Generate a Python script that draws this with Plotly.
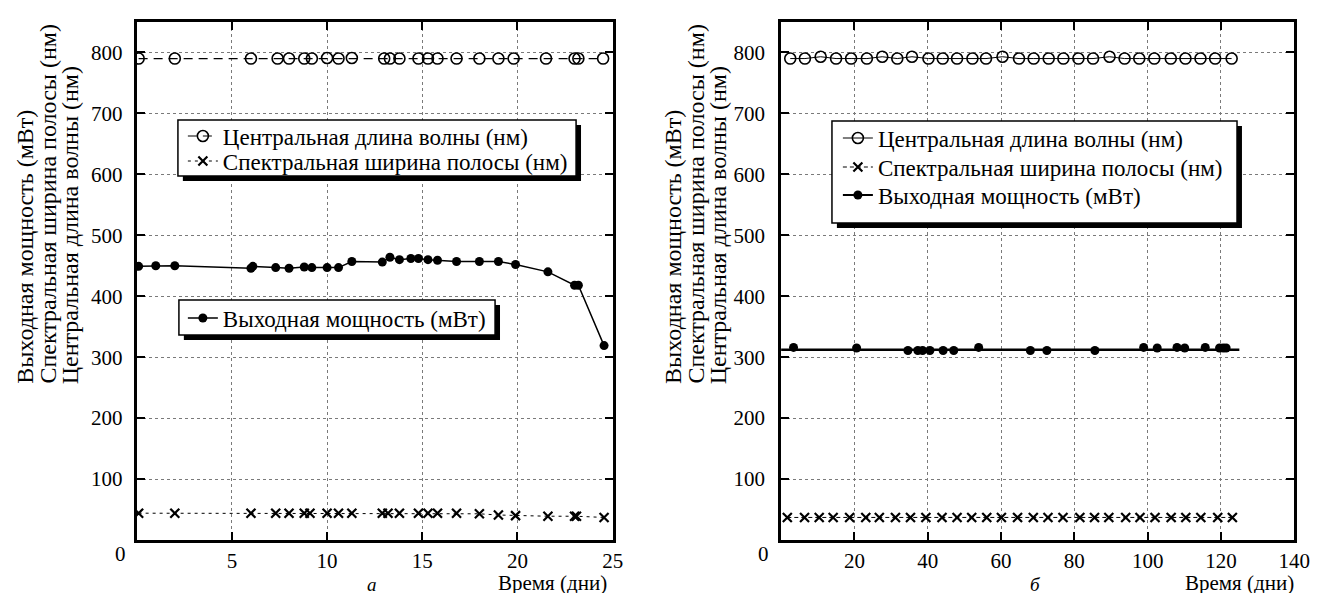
import plotly.graph_objects as go

W, H = 1329, 593

# ---------------- data: panel a ----------------
days_a_wl = [0.1, 2.0, 6.0, 7.4, 8.0, 8.8, 9.2, 10.0, 10.6, 11.3, 13.0, 13.3, 13.8,
             14.8, 15.3, 15.8, 16.8, 18.0, 19.0, 19.8, 21.5, 23.0, 23.2, 24.5]
wl_a = [790, 790, 790, 790, 790, 790, 790, 791, 790, 791, 790, 790, 790,
        790, 790, 790, 790, 790, 790, 790, 790, 790, 790, 790]

days_a_bw = [0.1, 2.0, 6.0, 7.3, 8.0, 8.8, 9.1, 10.0, 10.6, 11.3, 12.9, 13.2, 13.8,
             14.8, 15.3, 15.8, 16.8, 18.0, 19.0, 19.9, 21.6, 23.0, 23.1, 24.55]
bw_a = [44, 44, 44, 44, 44, 44, 44, 44, 44, 44, 44, 44, 44,
        44, 44, 44, 44, 43, 41, 40, 39, 39, 39, 37]

days_a_pw = [0.1, 1.0, 2.0, 6.0, 6.1, 7.3, 8.0, 8.8, 9.2, 10.0, 10.6, 11.3, 12.9, 13.3,
             13.8, 14.4, 14.8, 15.3, 15.8, 16.8, 18.0, 19.0, 19.9, 21.6, 23.0, 23.2, 24.55]
pw_a = [449, 450, 450, 446, 449, 447, 446, 448, 447, 447, 447, 457, 456, 464,
        460, 462, 462, 460, 459, 457, 457, 457, 452, 440, 418, 418, 319]

# ---------------- data: panel b ----------------
days_b_wl = [2.5, 6.5, 10.8, 15.0, 19.1, 23.4, 27.6, 31.7, 35.7, 40.2, 44.1, 48.0, 52.2, 55.9, 60.4,
             64.9, 68.9, 73.0, 77.0, 81.1, 85.1, 89.6, 93.7, 97.7, 101.8, 106.3, 110.3, 114.4, 118.4, 122.9]
wl_b = [790, 790, 793, 790, 790, 790, 793, 790, 793, 790, 790, 790, 790, 790, 793,
        790, 790, 790, 790, 790, 790, 793, 790, 790, 790, 790, 790, 790, 790, 790]

days_b_bw = [1.7, 6.4, 10.4, 14.2, 18.7, 23.1, 26.8, 31.2, 35.3, 39.5, 43.9, 48.0, 52.0, 56.1, 60.1,
             64.5, 68.8, 72.8, 76.9, 81.5, 85.5, 89.4, 94.0, 97.9, 102.0, 106.4, 110.4, 114.5, 119.1, 123.1]
bw_b = [37, 37, 37, 37, 37, 37, 37, 37, 37, 37, 37, 37, 37, 37, 37,
        37, 37, 37, 37, 37, 37, 37, 37, 37, 37, 37, 37, 37, 37, 37]

days_b_pw = [3.4, 20.6, 34.6, 37.3, 38.6, 40.6, 44.2, 47.1, 53.9, 68.0,
             72.5, 85.6, 98.9, 102.6, 108.0, 110.1, 115.7, 119.6, 120.6, 121.4]
pw_b = [316, 315, 311, 311, 311, 311, 311, 311, 316, 311,
        311, 311, 316, 315, 316, 315, 316, 315, 315, 315]
fit_days_b = [0.0, 125.0]
fit_pw_b = [312, 312]

# ---------------- labels ----------------
name_wl = "Центральная длина волны (нм)"
name_bw = "Спектральная ширина полосы (нм)"
name_pw = "Выходная мощность (мВт)"
y_title_lines = [name_pw, name_bw, name_wl]
x_title = "Время (дни)"
panel_labels = ["а", "б"]
xticks_a = [5, 10, 15, 20, 25]
xticks_b = [20, 40, 60, 80, 100, 120, 140]
yticks = [100, 200, 300, 400, 500, 600, 700, 800]

FONT = "Liberation Serif, Times New Roman, DejaVu Serif, serif"
LEG_SIZE = 23
TICK_SIZE = 21


def px(x):
    return x / W


def py(y):
    return 1 - y / H


fig = go.Figure()

open_circle = dict(symbol="circle-open", size=11, color="black", line=dict(width=1.6, color="black"))
cross = dict(symbol="x-thin", size=9, color="black", line=dict(width=2.2, color="black"))
dot = dict(symbol="circle", size=9, color="black")

# panel a
fig.add_trace(go.Scatter(x=days_a_wl, y=wl_a, mode="lines+markers", name=name_wl,
                         line=dict(color="black", width=1.2, dash="9px,6px"), marker=open_circle,
                         xaxis="x", yaxis="y", legend="legend"))
fig.add_trace(go.Scatter(x=days_a_bw, y=bw_a, mode="lines+markers", name=name_bw,
                         line=dict(color="black", width=1, dash="3px,4px"), marker=cross,
                         xaxis="x", yaxis="y", legend="legend2"))
fig.add_trace(go.Scatter(x=days_a_pw, y=pw_a, mode="lines+markers", name=name_pw,
                         line=dict(color="black", width=1.5), marker=dot,
                         xaxis="x", yaxis="y", legend="legend3"))

# panel b
fig.add_trace(go.Scatter(x=days_b_wl, y=wl_b, mode="lines+markers", name=name_wl,
                         line=dict(color="black", width=1), marker=open_circle,
                         xaxis="x2", yaxis="y2", legend="legend4"))
fig.add_trace(go.Scatter(x=days_b_bw, y=bw_b, mode="lines+markers", name=name_bw,
                         line=dict(color="black", width=1, dash="4px,3px"), marker=cross,
                         xaxis="x2", yaxis="y2", legend="legend5"))
fig.add_trace(go.Scatter(x=fit_days_b, y=fit_pw_b, mode="lines", showlegend=False,
                         line=dict(color="black", width=2.5), xaxis="x2", yaxis="y2"))
fig.add_trace(go.Scatter(x=days_b_pw, y=pw_b, mode="markers", showlegend=False,
                         marker=dot, xaxis="x2", yaxis="y2"))
fig.add_trace(go.Scatter(x=[None], y=[None], mode="lines+markers", name=name_pw,
                         line=dict(color="black", width=2), marker=dot,
                         xaxis="x2", yaxis="y2", legend="legend6"))

axis_common = dict(showline=True, linewidth=3, linecolor="black", mirror="ticks",
                   ticks="inside", ticklen=8, tickwidth=1.5, tickcolor="black",
                   showgrid=True, gridcolor="#7a7a7a", gridwidth=1, griddash="dot",
                   zeroline=False, tickfont=dict(family=FONT, size=TICK_SIZE, color="black"))

ydom = [py(532), py(14)]
fig.update_layout(
    xaxis=dict(domain=[px(130.3), px(612)], range=[0, 25], tickmode="array", tickvals=xticks_a,
               ticklabelstandoff=0, anchor="y", **axis_common),
    yaxis=dict(domain=ydom, range=[0, 850], tickmode="array", tickvals=yticks,
               ticklabelstandoff=7, anchor="x", **axis_common),
    xaxis2=dict(domain=[px(782.5), px(1302)], range=[0, 140], tickmode="array", tickvals=xticks_b,
                ticklabelstandoff=0, anchor="y2", **axis_common),
    yaxis2=dict(domain=ydom, range=[0, 850], tickmode="array", tickvals=yticks,
                ticklabelstandoff=9, anchor="x2", **axis_common),
)

# one legend per row so each row sits where the reference has it
row_off = 5 + (LEG_SIZE * 1.3 + 3) / 2
leg_common = dict(bgcolor="rgba(0,0,0,0)", borderwidth=0, xanchor="left", yanchor="top",
                  font=dict(family=FONT, size=LEG_SIZE, color="black"), tracegroupgap=0)
leg_rows = {"legend": (177, 128), "legend2": (177, 153), "legend3": (177, 310),
            "legend4": (840, 130), "legend5": (840, 159), "legend6": (840, 187)}
fig.update_layout(**{k: dict(x=px(x), y=py(y - row_off), **leg_common) for k, (x, y) in leg_rows.items()})

shapes = []
for (x0, y0, x1, y1) in [(172, 112, 575, 168), (173, 292, 493, 327), (834, 113, 1244, 215)]:
    shapes.append(dict(type="rect", xref="paper", yref="paper", x0=px(x0 + 5), x1=px(x1 + 5),
                       y0=py(y1 + 5), y1=py(y0 + 5), fillcolor="black", line=dict(width=0), layer="above"))
    shapes.append(dict(type="rect", xref="paper", yref="paper", x0=px(x0), x1=px(x1),
                       y0=py(y1), y1=py(y0), fillcolor="white", line=dict(width=1.5, color="black"),
                       layer="above"))

ann_font = dict(family=FONT, size=24, color="black")
annotations = []
for x0 in (17, 673):
    for i, line in enumerate(y_title_lines):
        annotations.append(dict(text=line, x=px(x0 + 23 * i), y=py(378), xref="paper", yref="paper",
                                textangle=-90, xanchor="center", yanchor="bottom",
                                showarrow=False, font=ann_font))
annotations += [
    dict(text=x_title, x=px(608), y=py(575), xref="paper", yref="paper", xanchor="right",
         yanchor="middle", showarrow=False, font=dict(family=FONT, size=21, color="black")),
    dict(text=x_title, x=px(1304), y=py(575), xref="paper", yref="paper", xanchor="right",
         yanchor="middle", showarrow=False, font=dict(family=FONT, size=21, color="black")),
    dict(text="<i>" + panel_labels[0] + "</i>", x=px(368), y=py(576), xref="paper", yref="paper",
         xanchor="center", yanchor="middle", showarrow=False, font=dict(family=FONT, size=19, color="black")),
    dict(text="<i>" + panel_labels[1] + "</i>", x=px(1040), y=py(576), xref="paper", yref="paper",
         xanchor="center", yanchor="middle", showarrow=False, font=dict(family=FONT, size=19, color="black")),
    dict(text="0", x=px(114), y=py(546), xref="paper", yref="paper", xanchor="center",
         yanchor="middle", showarrow=False, font=dict(family=FONT, size=TICK_SIZE, color="black")),
    dict(text="0", x=px(765), y=py(546), xref="paper", yref="paper", xanchor="center",
         yanchor="middle", showarrow=False, font=dict(family=FONT, size=TICK_SIZE, color="black")),
]

fig.update_layout(width=W, height=H, autosize=False, margin=dict(l=0, r=0, t=0, b=0),
                  paper_bgcolor="white", plot_bgcolor="white", shapes=shapes,
                  annotations=annotations, font=dict(family=FONT, size=20, color="black"))

fig.write_html("out.html")
